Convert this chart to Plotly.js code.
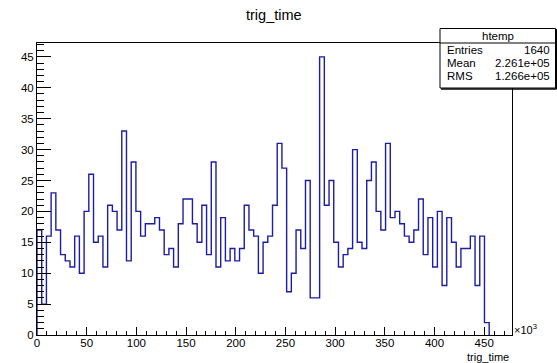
<!DOCTYPE html>
<html>
<head>
<meta charset="utf-8">
<script src="https://cdn.plot.ly/plotly-3.0.1.min.js"></script>
<style>html,body{margin:0;padding:0;background:#fff;}#chart{width:557px;height:363px;}</style>
</head>
<body>
<div id="chart"></div>
<script>
// ---- data (x in units of 10^3) ----
const binStart = 0;
const binWidth = 4.74;
const counts = [
  17, 5, 16, 23, 17, 13, 12, 11, 16, 10, 20, 26, 15, 16, 11, 21, 20, 17, 33, 12,
  28, 20, 16, 18, 18, 19, 17, 13, 14, 11, 18,
  22, 22, 18, 15, 21, 13, 28, 11, 19, 12, 14, 12, 14, 21, 17, 16, 10, 15, 16,
  21, 31, 27, 7, 10, 17, 14, 25, 6, 6, 45, 21, 25, 15, 11, 13, 14, 30, 15, 14,
  25, 28, 20, 17, 31, 19, 20, 18, 16, 15, 17, 22, 13, 19, 11, 20, 8, 19, 15, 11,
  14, 14, 16, 8, 16, 2
];
const xTickVals = [0, 50, 100, 150, 200, 250, 300, 350, 400, 450];
const xTickText = ["0", "50", "100", "150", "200", "250", "300", "350", "400", "450"];
const yTickVals = [0, 5, 10, 15, 20, 25, 30, 35, 40, 45];
const statsTitle = "htemp";
const statsLabels = ["Entries", "Mean", "RMS"];
const statsValues = ["1640", "2.261e+05", "1.266e+05"];
const chartTitle = "trig_time";
const xTitle = "trig_time";

// ---- build histogram outline (ROOT style) ----
const hx = [binStart], hy = [0];
counts.forEach((c, i) => { hx.push(binStart + i * binWidth); hy.push(c); });
hx.push(binStart + counts.length * binWidth); hy.push(0);

const W = 557, H = 363;
const M = {l: 37, r: 45, t: 43, b: 28};
const pw = W - M.l - M.r, ph = H - M.t - M.b;
const px = v => (v - M.l) / pw;
const py = v => (H - M.b - v) / ph;
const font = "'Liberation Sans', Arial, Helvetica, sans-serif";

const shapes = [
  // stats box shadow
  {type: 'line', xref: 'paper', yref: 'paper', x0: px(441), x1: px(556.5), y0: py(89), y1: py(89), line: {color: '#000', width: 1.5}, layer: 'above'},
  {type: 'line', xref: 'paper', yref: 'paper', x0: px(556.3), x1: px(556.3), y0: py(29), y1: py(89), line: {color: '#000', width: 1.5}, layer: 'above'},
  // stats box
  {type: 'rect', xref: 'paper', yref: 'paper', x0: px(440), x1: px(555.5), y0: py(28.5), y1: py(88), fillcolor: '#fff', line: {color: '#000', width: 1}, layer: 'above'},
  {type: 'line', xref: 'paper', yref: 'paper', x0: px(440), x1: px(555.5), y0: py(43), y1: py(43), line: {color: '#000', width: 1}, layer: 'above'}
];

const annotations = [
  {text: chartTitle, xref: 'paper', yref: 'paper', x: px(274), y: py(15), xanchor: 'center', yanchor: 'middle', showarrow: false, font: {family: font, size: 14.5, color: '#000'}},
  {text: xTitle, xref: 'paper', yref: 'paper', x: px(511), y: py(357), xanchor: 'right', yanchor: 'middle', showarrow: false, font: {family: font, size: 11, color: '#000'}},
  {text: "×10<sup>3</sup>", xref: 'paper', yref: 'paper', x: px(512), y: py(329), xanchor: 'left', yanchor: 'middle', showarrow: false, font: {family: font, size: 11, color: '#000'}},
  {text: statsTitle, xref: 'paper', yref: 'paper', x: px(498), y: py(35.5), xanchor: 'center', yanchor: 'middle', showarrow: false, font: {family: font, size: 11.5, color: '#000'}}
];
const rowY = [49.5, 63, 76.5];
statsLabels.forEach((lab, i) => {
  annotations.push({text: lab, xref: 'paper', yref: 'paper', x: px(445), y: py(rowY[i]), xanchor: 'left', yanchor: 'middle', showarrow: false, font: {family: font, size: 11.5, color: '#000'}});
  annotations.push({text: statsValues[i], xref: 'paper', yref: 'paper', x: px(552), y: py(rowY[i]), xanchor: 'right', yanchor: 'middle', showarrow: false, font: {family: font, size: 11.5, color: '#000'}});
});

const trace = {
  x: hx, y: hy, type: 'scatter', mode: 'lines',
  line: {shape: 'hv', color: '#1c1ca8', width: 1.4},
  hoverinfo: 'skip', cliponaxis: false
};

const layout = {
  width: W, height: H,
  margin: M,
  paper_bgcolor: '#fff', plot_bgcolor: '#fff',
  showlegend: false,
  font: {family: font, size: 11.5, color: '#000'},
  xaxis: {
    range: [0, 478], showgrid: false, zeroline: false,
    showline: true, linecolor: '#000', linewidth: 1, mirror: true,
    ticks: 'inside', ticklen: 8.5, tickwidth: 1, tickcolor: '#000',
    tickvals: xTickVals, ticktext: xTickText, ticklabelstandoff: -3,
    tickfont: {family: font, size: 11.5, color: '#000'},
    minor: {ticks: 'inside', ticklen: 4.5, dtick: 10, tick0: 0, tickcolor: '#000', tickwidth: 1, showgrid: false}
  },
  yaxis: {
    range: [0, 47.25], showgrid: false, zeroline: false,
    showline: true, linecolor: '#000', linewidth: 1, mirror: true,
    ticks: 'inside', ticklen: 14, tickwidth: 1, tickcolor: '#000',
    tickvals: yTickVals,
    tickfont: {family: font, size: 11.5, color: '#000'},
    minor: {ticks: 'inside', ticklen: 7, dtick: 1, tick0: 0, tickcolor: '#000', tickwidth: 1, showgrid: false}
  },
  shapes: shapes,
  annotations: annotations
};

Plotly.newPlot('chart', [trace], layout, {staticPlot: true, displayModeBar: false});
</script>
</body>
</html>
